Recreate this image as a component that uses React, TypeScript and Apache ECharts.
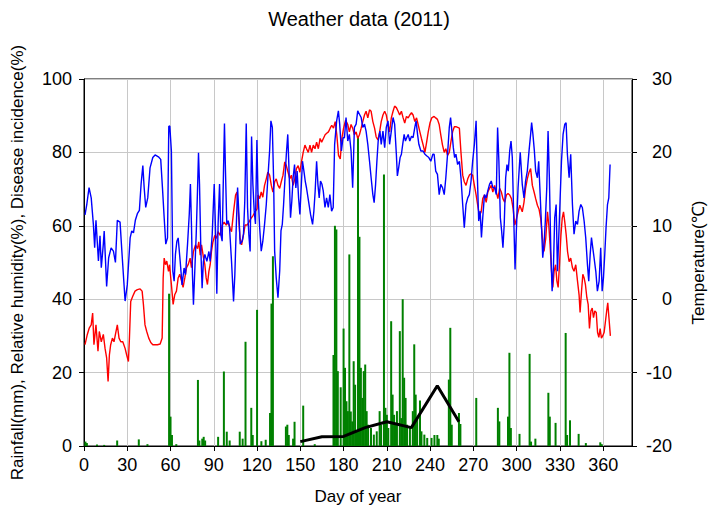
import React, { useEffect, useRef } from "react";
import * as echarts from "echarts";

const titleText = "Weather data (2011)";
const xTicks = [0, 30, 60, 90, 120, 150, 180, 210, 240, 270, 300, 330, 360];

// Relative humidity (%) [day, value]
const relativeHumidity: [number, number][] = [
  [0.7,63],[2,66],[3.5,70.4],[5,67.6],[6.5,60.4],[7.4,54],[8.3,61.5],[10,50.4],[11.1,57.3],[12,48.6],[13.4,55],[14,58.6],[15.7,43.5],[17.1,51.3],[18.8,54],[20.4,53.1],[21.8,50],[23.1,61.5],[25,61],[26.4,52.2],[28.5,39.5],[30,43.9],[32,56.7],[33.1,58.6],[34.3,58.1],[35.6,61.5],[37,63.3],[38.4,64.2],[39.6,71.4],[40.8,76.4],[41.7,70.5],[42.8,65],[44.2,67.6],[45.8,75.8],[47.7,78.6],[49.3,79.3],[51.6,78.8],[53.2,78.1],[54.4,70.4],[55.6,62.2],[56.7,55],[57.9,56.7],[58.8,87.1],[59.5,87.2],[60.6,80.4],[61.6,47.6],[62.5,44.9],[63.4,52.2],[64.4,55.8],[65.3,56.7],[66.7,50.3],[68,43.9],[69.4,48.5],[70.4,46.7],[71.8,55],[73,63.2],[73.8,71.4],[74.5,60.5],[75.2,46.7],[75.9,38.5],[76.9,48.5],[77.8,57.6],[78.7,69.5],[79.4,79.9],[80.1,71.4],[81,53.9],[81.9,43],[82.8,50.3],[83.8,52.2],[85.2,50.3],[86.6,53],[87.5,50.3],[88.9,57.6],[90.3,71.4],[91.2,58.8],[92.1,41.5],[93,60.5],[94,71.4],[94.9,57.6],[95.8,55.8],[96.7,74.2],[97.4,87.9],[98.1,75],[99,60.5],[100,61.4],[100.9,59.6],[102.3,50.3],[103.7,39.4],[104.6,46.7],[105.5,58.6],[106.5,70.4],[107.4,63.2],[108.3,55],[109.7,55.8],[110.6,57.7],[111.5,66.8],[112.5,87.9],[113.4,65],[114.3,57.6],[115.2,53],[116.2,84.3],[117.1,71.4],[118,64.2],[118.9,60.5],[119.9,83.4],[120.6,69.5],[121.8,59.6],[122.9,53.1],[124,55.8],[125.2,60.4],[126.4,65.8],[127.5,73.1],[128.7,80.4],[129.6,88.6],[130.6,86.8],[131.5,72.2],[132.2,53.1],[133.3,45.8],[134.5,40.4],[135.7,47.7],[136.6,58.7],[137.5,60.4],[138.4,65.8],[139.4,73.1],[140.3,79.5],[141.3,84.9],[142.2,74.9],[143.2,62.2],[144.1,66.7],[145,73.1],[146,76.7],[146.9,70.3],[147.8,74.9],[148.8,67.6],[149.7,63.1],[150.6,70.3],[151.5,77.6],[152.5,74.9],[153.4,72.2],[154.3,70.3],[155.7,66.7],[157.1,63.1],[158.5,60.4],[159.4,64],[160.3,69.5],[161.3,77.6],[162.2,71.3],[163.1,67.6],[164,72.2],[165,71.3],[165.9,69.5],[167.1,65],[168.2,67.6],[169.4,65],[170.5,68.5],[171.7,64],[172.8,65],[173.8,82.2],[175.2,88.6],[176.4,91.3],[177.3,87.7],[178.5,80.4],[179.6,84],[180.6,84],[181.7,89.5],[182.9,83.1],[184,84.9],[185.2,80.4],[186.3,70.4],[187.5,86.8],[188.7,87.7],[189.8,91.3],[191,90.4],[192.2,89.5],[193.3,86.8],[194.5,87.7],[195.6,85.8],[196.8,82.2],[198,77.6],[199.1,73.1],[200.3,68.5],[201.2,66.3],[202.2,71.3],[203.1,77.6],[204,83.1],[205.2,85.8],[206.1,82.2],[207.3,85.8],[208.5,81.3],[209.6,86.8],[210.8,88.6],[211.9,82.2],[213.1,85.8],[214.3,89.5],[215.4,87.7],[216.6,79.5],[217.3,73.6],[218.2,75.8],[219.2,78.6],[220.1,79.5],[221,82.2],[222,84.9],[222.9,83.1],[223.8,84],[224.8,84.9],[225.9,83.1],[227.1,84.4],[228.2,84],[229.4,86.8],[230.3,88.6],[231.3,84.9],[232.2,82.2],[233.6,80.4],[235,80.4],[236.4,79.5],[237.8,79],[239.1,78.6],[240.5,77.6],[241.9,79.5],[242.8,79.5],[243.9,74.9],[245.1,74],[246.3,68.5],[247.4,71.3],[248.6,70.4],[249.8,68.5],[250.9,73.1],[252.1,79.5],[253.3,86.8],[254.2,89.5],[255.1,85.8],[256.1,81.3],[257,78.6],[257.9,79.5],[259.1,76.7],[260.3,77.6],[261.4,73.1],[262.6,65.8],[263.7,59.5],[264.9,65.8],[266.1,67.6],[267.2,68.5],[268.4,72.2],[269.5,77.6],[270.7,82.2],[271.9,88.6],[272.8,73.1],[273.7,61.3],[274.7,64],[275.6,56.8],[276.5,62.2],[277.7,68.5],[278.9,67.6],[280,69.5],[281.2,71.3],[282.4,72.2],[283.5,70.4],[284.7,70.4],[285.9,68.5],[286.8,86.8],[287.7,77.6],[288.7,62.2],[289.6,58.6],[290.5,54],[291.4,60.4],[292.4,73.1],[293.3,76.7],[294.2,74.9],[295.2,80.4],[296.1,83.1],[297,78.6],[298,62.2],[298.9,48.1],[299.8,58.6],[301,70.4],[302.5,80],[303.9,71.3],[305.1,67.6],[306.2,72.2],[307.4,74.9],[308.6,80.4],[309.7,84.9],[310.4,88.1],[311.3,84.9],[312.3,80.4],[313.2,74.9],[314.4,73.1],[315.3,77.6],[316.2,69.5],[317.2,60.4],[318.1,51.3],[319,54.9],[319.9,61.3],[320.9,70.4],[321.8,85.8],[322.7,73.1],[323.7,53.1],[324.6,42.2],[325.5,48.6],[326.4,62.2],[327.4,65.8],[328.3,47.6],[329.2,56.8],[330.1,66.7],[331.1,77.6],[332.2,84.9],[333.4,87.7],[334.3,88.1],[335.2,79.5],[336.4,73.1],[337.5,79.5],[338.7,65.8],[339.8,57.7],[341,61.3],[342.2,60.4],[343.3,64],[344.5,65.8],[345.6,64.9],[346.8,61.3],[347.9,56.8],[349.1,49.5],[350,44.9],[351,52.2],[351.9,56.8],[352.8,54],[353.7,51.3],[354.9,47.6],[356,42.2],[357.2,44.9],[358.3,54],[359.3,42.2],[360.2,45.8],[361.1,52.2],[362,59.5],[363,65.8],[363.9,67.6],[364.8,76.7]
];

// Temperature (°C) [day, value]
const temperature: [number, number][] = [
  [0.7,-6.2],[2.3,-4.8],[3.7,-3.9],[5,-3.5],[6,-1.9],[6.9,-6.2],[8.3,-3.5],[9.7,-7.1],[10.6,-4.4],[12,-5.8],[13.4,-4.8],[14.6,-6.7],[15.7,-8],[16.7,-11.2],[17.6,-7.6],[18.5,-6.2],[19.7,-5.3],[20.8,-5.8],[21.8,-4.8],[23.1,-3.5],[24.3,-5.3],[25.5,-5.8],[26.9,-5.8],[28.5,-6.7],[29.6,-7.6],[30.8,-8.5],[31.5,-5.3],[32.4,-0.3],[33.8,0.4],[35.4,1.1],[37,1.3],[38.9,1.4],[40.3,1.1],[41.2,-0.7],[42.3,-3.5],[43.5,-4.4],[44.9,-5.3],[46.3,-5.9],[47.7,-6.2],[49.3,-6.2],[50.9,-6.2],[52.8,-6.1],[54.2,-5.3],[54.9,2.9],[55.6,5.6],[56.5,4.7],[57.4,5.2],[58.6,3.8],[59.3,4.7],[60.6,2],[61.8,-0.7],[62.9,0.6],[64.1,1.1],[65.3,2.9],[66.4,3.4],[67.6,2.5],[68.7,1.6],[69.9,2.9],[71.1,4.3],[72.2,4.7],[73.6,5.6],[74.5,4.3],[75.9,6.5],[77.3,7.4],[78.7,6.9],[79.6,7.8],[80.6,6],[81.5,7.4],[82.9,5.6],[83.8,4.7],[84.7,2.9],[85.6,2],[86.6,3.8],[87.5,4.7],[88.4,6.5],[89.4,7.8],[90.7,8.7],[91.9,8.3],[93,9.2],[94.4,8.7],[95.8,10.1],[97.2,10.5],[98.6,10.1],[100,10.5],[101.4,9.6],[102.3,9.2],[103.7,11.9],[105.1,14.2],[106.1,14.6],[107,11.9],[108.2,8.3],[109.3,7.4],[110.5,8.7],[111.7,10.1],[113.1,10.1],[114.4,10.5],[115.8,11],[117.2,11.4],[118.6,11.9],[120,12.3],[120.6,14.2],[121.8,13.7],[122.9,14.6],[124,13.9],[125.2,15.5],[126.4,16.4],[127.5,17.3],[128.7,16.9],[129.9,15.5],[131,14.6],[132.2,16],[133.3,16.4],[134.5,15.5],[135.7,15.1],[136.8,16],[138,16.9],[139.2,18.7],[140.3,18.2],[141.5,17.3],[142.7,16.4],[143.8,16.9],[145,15.5],[146.2,16.4],[147.3,17.8],[148.5,18.2],[149.7,17.3],[150.8,18.7],[152,20],[153.2,21],[154.3,20.5],[155.5,20],[156.7,21],[157.8,20],[159,21],[160.2,20.5],[161.3,21.4],[162.5,20.5],[163.7,21.9],[164.8,21.4],[166,21.9],[167.2,22.4],[168.3,22.6],[169.5,22.8],[170.7,23.3],[171.8,23.7],[173,23.3],[174.2,24.2],[175.3,22.4],[176.5,19.6],[177.7,19.1],[178.8,21.9],[180,23.3],[181.4,24.4],[182.9,23.8],[184,22.8],[185.2,23.8],[186.3,23.3],[187.5,22.4],[188.7,22.8],[189.8,21.9],[191,22.4],[192.2,23.3],[193.3,24.2],[194.5,25.1],[195.6,25.6],[196.8,24.7],[198,25.8],[199.1,25.6],[200.3,24.2],[201.5,23.3],[202.6,22.1],[203.8,21.7],[205,22.8],[206.1,24.2],[207.3,25.1],[208.5,25.6],[209.6,25.1],[210.8,23.8],[211.9,22.8],[213.1,24.7],[214.3,25.6],[215.4,26.3],[216.6,26.1],[217.8,25.6],[218.9,25.1],[220.1,25.6],[221.3,24.7],[222.4,24],[223.6,24.9],[224.8,24.7],[225.9,25.1],[227.1,25.4],[228.2,25.1],[229.4,24.2],[230.6,24.7],[231.7,23.8],[232.9,22.8],[234,21.9],[235.2,21],[236.4,20],[237.6,21.4],[238.7,22.8],[239.9,24],[241.1,24.7],[242.8,24.9],[243.9,24.7],[245.1,24.5],[246.3,23.8],[247.4,22.4],[248.6,21],[249.8,20],[250.9,20.5],[252.1,19.6],[253.3,20],[254.4,21.4],[255.6,22.8],[256.8,23.5],[257.9,23.5],[259.1,23.4],[260.3,23.3],[261.4,20],[262.6,16.9],[263.7,16],[264.9,15.5],[266.1,16.4],[267.2,16.9],[268.4,17.1],[269.5,16.9],[270.7,15.5],[271.9,14.2],[273,12.8],[274.2,11.4],[275.4,11.9],[276.5,13.7],[277.7,14.2],[278.9,13.2],[280,14.6],[281.2,15.1],[282.4,15.5],[283.5,14.6],[284.7,15.5],[285.9,14.6],[287,13.7],[288.2,15.1],[289.4,14.6],[290.5,13.7],[291.7,13.2],[292.9,14.2],[294,14.4],[295.2,14.2],[296.4,13.7],[297.6,12.3],[298.7,10.1],[299.9,11],[301,11.9],[302.2,12.8],[303.9,11.9],[305.1,13.2],[306.2,15.1],[307.4,16.4],[308.6,17.3],[309.7,17.8],[310.9,15.5],[312.1,14.6],[313.2,13.7],[314.4,12.8],[315.5,12.3],[316.7,11],[317.9,8.3],[319,6.5],[320.2,8.3],[321.4,11.9],[322.3,10.1],[323.2,7.4],[324.2,3.8],[325.1,1.6],[326,3.8],[327,4.7],[327.9,2.5],[328.8,1.6],[329.7,4.7],[330.7,8.7],[331.6,11],[332.5,11.9],[333.4,10.5],[334.4,8.7],[335.3,6.5],[336.4,5.1],[337.5,5.6],[338.7,4.3],[339.8,3.8],[341,4.7],[342.2,2.5],[343.3,0.6],[344,-1.8],[345,1.1],[345.9,3.4],[346.8,2.9],[347.7,2],[348.7,0.2],[349.6,-0.7],[350.5,-4],[351.5,-1.6],[352.4,-1.2],[353.3,-2.5],[354.2,-1.6],[355.2,-1.8],[356.1,-4.5],[357,-5.2],[357.9,-4],[358.8,-5.3],[359.7,-5],[360.7,-4.5],[361.6,-3],[362.5,-1.5],[363.2,-0.5],[364,-2.5],[365,-5]
];

// Rainfall (mm) [day, value]
const rainfall: [number, number][] = [
  [1,1.2],[2,0.8],[9,0.4],[14,0.3],[23,1.5],[38,1.8],[44,0.5],[59,41.5],[60,8],[61,3],[64,0.5],[79,18],[80,1.5],[82,2],[83,2.5],[84,1.5],[93,2.5],[97,20.3],[99,3.9],[101,1.5],[108,3.9],[110,2],[112,28.4],[116,10.4],[117,3],[120,37.1],[123,1.3],[126,1.7],[129,9],[130,38.8],[131,51.7],[140,5.3],[141,5.8],[142,3],[145,2],[146,6.6],[152,11],[160,0.5],[173,24.8],[174,60],[175,59],[176,20.4],[178,16],[180,32],[181,21.3],[182,12.2],[183,9.5],[184,52.2],[185,9.4],[186,6.7],[187,23.1],[188,16.7],[189,4],[190,84.5],[191,57],[192,21.3],[193,13.1],[194,20.4],[195,22.2],[196,9.5],[197,5.8],[199,4.9],[201,3.1],[203,4],[205,9.5],[206,5.8],[208,74],[209,10.4],[210,8.5],[211,4.9],[213,34],[214,14],[215,8.5],[216,5.8],[217,9.5],[219,31.3],[220,7.6],[221,40],[222,18.6],[223,13.1],[224,5.8],[226,4.9],[228,9.5],[229,27.7],[230,14],[231,7.6],[233,12.4],[234,4],[236,3.1],[238,2.2],[241,2.2],[243,3],[245,3],[246,2],[253,18.1],[254,32.2],[255,5.8],[260,9],[261,6],[272,13.1],[287,10.4],[288,6.7],[294,8],[295,25.4],[296,4.9],[302,3.3],[309,25.1],[310,1.2],[313,2],[322,14.5],[323,8],[327,6.3],[334,30.8],[335,3],[337,7],[343,3.3],[348,0.8],[358,1],[359,0.5]
];

// Disease incidence (%) [day, value]
const diseaseIncidence: [number, number][] = [
  [150,1.2],[165,2.5],[180,2.6],[195,5],[210,6.6],[227,5],[245,16.4],[260,6.6]
];

const FONT = "'Liberation Sans', Arial, sans-serif";

export default function App() {
  const ref = useRef<HTMLDivElement>(null);
  useEffect(() => {
    if (!ref.current) return;
    const chart = echarts.init(ref.current, null, { renderer: "svg" });
    chart.setOption({
      animation: false,
      backgroundColor: "#ffffff",
      textStyle: { fontFamily: FONT, color: "#000" },
      title: {
        text: titleText,
        left: "center",
        top: 4,
        textStyle: { fontFamily: FONT, fontSize: 20, fontWeight: "normal", color: "#000" },
      },
      grid: {
        left: 84, right: 86, top: 79, bottom: 74,
        show: true, borderColor: "#000", borderWidth: 1, backgroundColor: "transparent",
      },
      xAxis: {
        type: "value",
        min: 0, max: 380, interval: 30,
        name: "Day of year",
        nameLocation: "middle",
        nameGap: 42,
        nameTextStyle: { fontFamily: FONT, fontSize: 17, color: "#000" },
        axisLine: { show: true, lineStyle: { color: "#000", width: 1 } },
        axisTick: { show: true, length: 5, lineStyle: { color: "#000" } },
        axisLabel: {
          fontFamily: FONT, fontSize: 18, color: "#000", margin: 10,
          showMaxLabel: false,
          formatter: (v: number) => (xTicks.includes(v) ? String(v) : ""),
        },
        splitLine: { show: true, lineStyle: { color: "#c8c8c8", width: 1 } },
      },
      yAxis: [
        {
          type: "value",
          min: 0, max: 100, interval: 20,
          position: "left",
          name: "Rainfall(mm), Relative humidity(%), Disease incidence(%)",
          nameLocation: "middle",
          nameGap: 58,
          nameRotate: 90,
          nameTextStyle: { fontFamily: FONT, fontSize: 17, color: "#000" },
          axisLine: { show: true, lineStyle: { color: "#000", width: 1 } },
          axisTick: { show: true, length: 5, lineStyle: { color: "#000" } },
          axisLabel: { fontFamily: FONT, fontSize: 18, color: "#000", margin: 12 },
          splitLine: { show: true, lineStyle: { color: "#c8c8c8", width: 1 } },
        },
        {
          type: "value",
          min: -20, max: 30, interval: 10,
          position: "right",
          name: "Temperature(℃)",
          nameLocation: "middle",
          nameGap: 58,
          nameRotate: 90,
          nameTextStyle: { fontFamily: FONT, fontSize: 17, color: "#000" },
          axisLine: { show: true, lineStyle: { color: "#000", width: 1 } },
          axisTick: { show: true, length: 5, lineStyle: { color: "#000" } },
          axisLabel: { fontFamily: FONT, fontSize: 18, color: "#000", margin: 40, align: "right" },
          splitLine: { show: false },
        },
      ],
      series: [
        {
          name: "Rainfall",
          type: "bar",
          xAxisIndex: 0, yAxisIndex: 0,
          barWidth: 2,
          itemStyle: { color: "#008000" },
          data: rainfall,
        },
        {
          name: "Temperature",
          type: "line",
          yAxisIndex: 1,
          showSymbol: false,
          symbol: "none",
          lineStyle: { color: "#ff0000", width: 1.4 },
          data: temperature,
        },
        {
          name: "Relative humidity",
          type: "line",
          yAxisIndex: 0,
          showSymbol: false,
          symbol: "none",
          lineStyle: { color: "#0000ff", width: 1.4 },
          data: relativeHumidity,
        },
        {
          name: "Disease incidence",
          type: "line",
          yAxisIndex: 0,
          showSymbol: false,
          symbol: "none",
          lineStyle: { color: "#000000", width: 3 },
          data: diseaseIncidence,
        },
      ],
    });
    return () => chart.dispose();
  }, []);
  return (
    <div
      ref={ref}
      style={{ position: "absolute", left: 0, top: 0, width: 718, height: 520, background: "#fff" }}
    />
  );
}
